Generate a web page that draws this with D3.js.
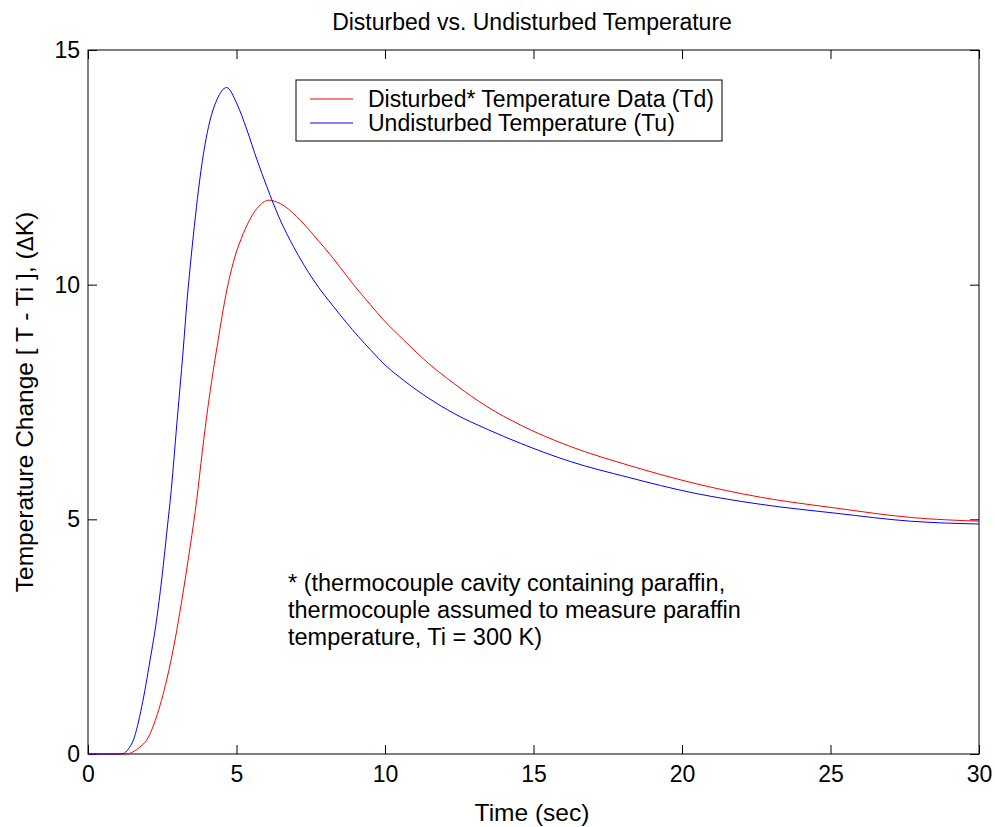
<!DOCTYPE html>
<html>
<head>
<meta charset="utf-8">
<script src="https://cdn.jsdelivr.net/npm/d3@7"></script>
<style>
  html, body { margin: 0; padding: 0; background: #fff; }
  svg { display: block; font-family: "Liberation Sans", Arial, sans-serif; }
</style>
</head>
<body>
<svg id="chart" width="995" height="827"></svg>
<script>
// ---- Data ----
const tdTime = [0, 1.0, 1.3, 1.5, 1.75, 2.0, 2.3, 2.65, 2.93, 3.16, 3.44, 3.66, 3.85, 4.04, 4.2, 4.39, 4.56, 4.73, 4.95, 5.23, 5.57, 5.8, 6.08, 6.47, 7.03, 7.59, 8.27, 8.94, 9.5, 9.95, 10.63, 11.47, 12.31, 13.44, 14.56, 16.25, 18.16, 20.4, 22.65, 25.18, 27.7, 30];
const tdValues = [0, 0, 0, 0.04, 0.15, 0.32, 0.78, 1.58, 2.43, 3.28, 4.42, 5.41, 6.45, 7.4, 8.1, 8.85, 9.5, 10.05, 10.6, 11.09, 11.52, 11.7, 11.8, 11.73, 11.45, 11.06, 10.55, 10.0, 9.58, 9.25, 8.82, 8.32, 7.9, 7.4, 7.01, 6.55, 6.16, 5.77, 5.47, 5.24, 5.04, 4.96];

const tuTime = [0, 1.0, 1.19, 1.35, 1.53, 1.81, 2.09, 2.31, 2.48, 2.7, 2.77, 3.0, 3.24, 3.3, 3.44, 3.58, 3.72, 3.89, 4.06, 4.34, 4.67, 5.01, 5.35, 5.69, 6.02, 6.47, 6.92, 7.59, 8.27, 9.11, 9.5, 10.07, 10.63, 11.47, 12.31, 13.44, 14.56, 16.25, 18.16, 20.4, 22.65, 25.18, 27.7, 30];
const tuValues = [0, 0, 0.01, 0.1, 0.3, 1.01, 2.0, 2.86, 3.71, 5.0, 5.41, 7.1, 8.89, 9.39, 10.38, 11.24, 12.02, 12.8, 13.37, 13.94, 14.2, 13.86, 13.3, 12.66, 12.09, 11.38, 10.81, 10.1, 9.53, 8.89, 8.62, 8.25, 7.96, 7.58, 7.26, 6.92, 6.62, 6.23, 5.9, 5.56, 5.32, 5.13, 4.96, 4.9];

const xTicks = [0, 5, 10, 15, 20, 25, 30];
const yTicks = [0, 5, 10, 15];
const seriesNames = ["Disturbed* Temperature Data (Td)", "Undisturbed Temperature (Tu)"];
const seriesColors = ["#ff0000", "#0000ff"];
const titleText = "Disturbed vs. Undisturbed Temperature";
const xLabel = "Time (sec)";
const noteLines = ["* (thermocouple cavity containing paraffin,", "thermocouple assumed to measure paraffin", "temperature, Ti = 300 K)"];

// ---- Layout ----
const svg = d3.select("#chart");
const L = 88, R = 979, T = 50, B = 754;
const x = d3.scaleLinear().domain([0, 30]).range([L, R]);
const y = d3.scaleLinear().domain([0, 15]).range([B, T]);
const fs = 23;

// frame
svg.append("rect").attr("x", L).attr("y", T).attr("width", R - L).attr("height", B - T)
  .attr("fill", "none").attr("stroke", "#000").attr("stroke-width", 1);

// axes (ticks inward, all four sides)
const tickLen = 9;
const gx = svg.append("g").attr("transform", `translate(0,${B})`)
  .call(d3.axisBottom(x).tickValues(xTicks).tickSizeInner(-tickLen).tickSizeOuter(0).tickPadding(12).tickFormat(d3.format("d")));
const gxTop = svg.append("g").attr("transform", `translate(0,${T})`)
  .call(d3.axisTop(x).tickValues(xTicks).tickSizeInner(-tickLen).tickSizeOuter(0).tickFormat(""));
const gy = svg.append("g").attr("transform", `translate(${L},0)`)
  .call(d3.axisLeft(y).tickValues(yTicks).tickSizeInner(-tickLen).tickSizeOuter(0).tickPadding(8).tickFormat(d3.format("d")));
const gyR = svg.append("g").attr("transform", `translate(${R},0)`)
  .call(d3.axisRight(y).tickValues(yTicks).tickSizeInner(-tickLen).tickSizeOuter(0).tickFormat(""));
[gx, gxTop, gy, gyR].forEach(g => {
  g.select(".domain").remove();
  g.selectAll("line").attr("stroke", "#000");
  g.selectAll("text").attr("font-size", fs).attr("font-family", "'Liberation Sans', Arial, sans-serif").attr("fill", "#000");
});
gx.selectAll("text").attr("dy", "0.71em");

// lines
const line = d3.line().x(d => x(d[0])).y(d => y(d[1])).curve(d3.curveMonotoneX);
const tdData = tdTime.map((t, i) => [t, tdValues[i]]);
const tuData = tuTime.map((t, i) => [t, tuValues[i]]);
svg.append("path").datum(tdData).attr("d", line).attr("fill", "none").attr("stroke", seriesColors[0]).attr("stroke-width", 1);
svg.append("path").datum(tuData).attr("d", line).attr("fill", "none").attr("stroke", seriesColors[1]).attr("stroke-width", 1);

// title
svg.append("text").attr("x", 532).attr("y", 30).attr("text-anchor", "middle")
  .attr("font-size", 23).text(titleText);

// x label
svg.append("text").attr("x", 532).attr("y", 821).attr("text-anchor", "middle")
  .attr("font-size", 24.5).text(xLabel);

// y label
const yl = svg.append("text").attr("transform", `translate(33,402) rotate(-90)`)
  .attr("text-anchor", "middle").attr("font-size", 24.5);
yl.append("tspan").text("Temperature Change [ T - Ti ], (");
yl.append("tspan").attr("font-family", "'DejaVu Sans', sans-serif").attr("font-size", 22).text("Δ");
yl.append("tspan").text("K)");

// legend
const lg = svg.append("g");
lg.append("rect").attr("x", 296).attr("y", 80).attr("width", 426).attr("height", 61)
  .attr("fill", "#fff").attr("stroke", "#000").attr("stroke-width", 1);
seriesNames.forEach((name, i) => {
  const yy = 99 + i * 24;
  lg.append("line").attr("x1", 310).attr("x2", 353).attr("y1", yy).attr("y2", yy)
    .attr("stroke", seriesColors[i]).attr("stroke-width", 1);
  lg.append("text").attr("x", 368).attr("y", yy + 8).attr("font-size", 23).text(name);
});

// note
noteLines.forEach((s, i) => {
  svg.append("text").attr("x", 288).attr("y", 591 + i * 27).attr("font-size", 23.5).text(s);
});
</script>
</body>
</html>
